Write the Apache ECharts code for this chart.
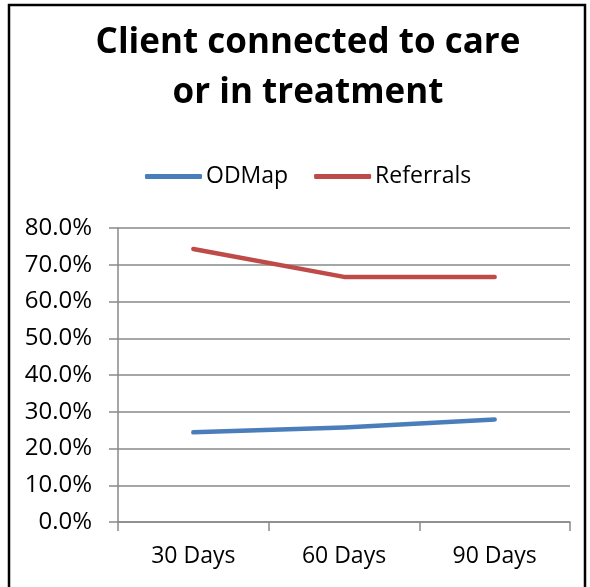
<!DOCTYPE html>
<html>
<head>
<meta charset="utf-8">
<script src="https://cdn.jsdelivr.net/npm/echarts@6/dist/echarts.min.js"></script>
<style>
  html, body { margin: 0; padding: 0; background: #fff; }
  #chart { width: 590px; height: 587px; }
</style>
</head>
<body>
<div id="chart"></div>
<script>
const categories = ['30 Days', '60 Days', '90 Days'];
const odmap = [24.4, 25.7, 27.9];
const referrals = [74.3, 66.7, 66.7];

const chart = echarts.init(document.getElementById('chart'));
const gray = '#898989';
const font = 'Open Sans';

chart.setOption({
  animation: false,
  title: {
    text: 'Client connected to care\nor in treatment',
    left: 303,
    textAlign: 'center',
    top: 13,
    textStyle: { fontFamily: font, fontWeight: 'bold', fontSize: 35, lineHeight: 50, color: '#000' }
  },
  legend: {
    top: 160,
    left: 140,
    icon: 'roundRect',
    itemWidth: 57,
    itemHeight: 5,
    itemGap: 26,
    textStyle: { fontFamily: font, fontSize: 23, color: '#000', padding: [0, 0, 0, -1] },
    data: ['ODMap', 'Referrals']
  },
  grid: { left: 118, right: 20, top: 228, bottom: 65, containLabel: false },
  xAxis: {
    type: 'category',
    data: categories,
    boundaryGap: true,
    axisLine: { lineStyle: { color: gray, width: 1.5 } },
    axisTick: { show: true, alignWithLabel: false, length: 9, lineStyle: { color: gray, width: 1.5 } },
    axisLabel: { fontFamily: font, fontSize: 23, color: '#000', margin: 23 }
  },
  yAxis: {
    type: 'value',
    min: 0,
    max: 80,
    interval: 10,
    axisLine: { show: true, lineStyle: { color: gray, width: 1.5 } },
    axisTick: { show: true, length: 9, lineStyle: { color: gray, width: 1.5 } },
    splitLine: { lineStyle: { color: gray, width: 1.5 } },
    axisLabel: {
      fontFamily: font, fontSize: 24, color: '#000', margin: 26,
      formatter: v => v.toFixed(1) + '%'
    }
  },
  graphic: [{
    type: 'rect',
    shape: { x: 9, y: 5, width: 576, height: 600 },
    style: { fill: 'none', stroke: '#000', lineWidth: 2.5 },
    z: 100
  }],
  series: [
    {
      name: 'ODMap', type: 'line', data: odmap, symbol: 'none',
      itemStyle: { color: '#4a7ebb' },
      lineStyle: { color: '#4a7ebb', width: 4.5, cap: 'round', join: 'round' }
    },
    {
      name: 'Referrals', type: 'line', data: referrals, symbol: 'none',
      itemStyle: { color: '#be4b48' },
      lineStyle: { color: '#be4b48', width: 4.5, cap: 'round', join: 'round' }
    }
  ]
});
</script>
</body>
</html>
